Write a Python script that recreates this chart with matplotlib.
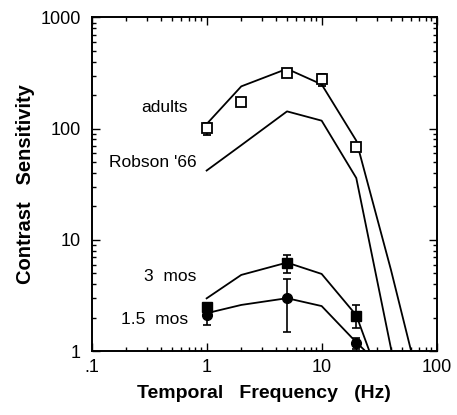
import matplotlib.pyplot as plt
import numpy as np
from matplotlib.ticker import FixedLocator, LogLocator, NullFormatter

plt.rcParams['font.family'] = ['Liberation Sans', 'DejaVu Sans']

# measured data points (markers) with error bar ends
freq_adults = [1, 2, 5, 10, 20]
sens_adults = [101, 173, 318, 280, 69]
lo_adults = [88, 165, 300, 240, 65]
hi_adults = [112, 181, 335, 313, 74]

freq_3mo = [1, 5, 20]
sens_3mo = [2.5, 6.2, 2.07]
lo_3mo = [2.3, 5.07, 1.6]
hi_3mo = [2.7, 7.3, 2.6]

freq_15mo = [1, 5, 20]
sens_15mo = [2.1, 2.98, 1.19]
lo_15mo = [1.71, 1.49, 1.05]
hi_15mo = [2.4, 4.43, 1.3]

# model / reference curves
curve_adults_x = [1, 2, 5, 10, 20, 40, 60]
curve_adults_y = [110, 240, 345, 250, 78, 5.4, 1.0]
robson_x = [1, 2, 5, 10, 20, 40.5]
robson_y = [42, 71, 143, 118, 36, 1.0]
curve_3mo_x = [1, 2, 5, 10, 20, 26]
curve_3mo_y = [2.98, 4.84, 6.25, 4.94, 2.1, 1.0]
curve_15mo_x = [1, 2, 5, 10, 20, 24]
curve_15mo_y = [2.19, 2.6, 2.99, 2.54, 1.2, 1.0]

fig = plt.figure(figsize=(4.57, 4.15), dpi=100)
ax = fig.add_axes([0.2005, 0.154, 0.755, 0.804])

lw = 1.3
for cx, cy in [(curve_adults_x, curve_adults_y), (robson_x, robson_y),
               (curve_3mo_x, curve_3mo_y), (curve_15mo_x, curve_15mo_y)]:
    ax.plot(cx, cy, color='black', lw=lw, zorder=2)

def errs(y, lo, hi):
    y = np.array(y); return [y - np.array(lo), np.array(hi) - y]

ax.errorbar(freq_adults, sens_adults, yerr=errs(sens_adults, lo_adults, hi_adults),
            fmt='s', mfc='white', mec='black', mew=1.3, ms=6.5, ecolor='black',
            elinewidth=1.2, capsize=3, capthick=1.2, zorder=3)
ax.errorbar(freq_3mo, sens_3mo, yerr=errs(sens_3mo, lo_3mo, hi_3mo),
            fmt='s', mfc='black', mec='black', ms=7, ecolor='black',
            elinewidth=1.2, capsize=3, capthick=1.2, zorder=3)
ax.errorbar(freq_15mo, sens_15mo, yerr=errs(sens_15mo, lo_15mo, hi_15mo),
            fmt='o', mfc='black', mec='black', ms=7, ecolor='black',
            elinewidth=1.2, capsize=3, capthick=1.2, zorder=3)

ax.set_xscale('log')
ax.set_yscale('log')
ax.set_xlim(0.1, 100)
ax.set_ylim(1, 1000)

ax.xaxis.set_major_locator(FixedLocator([0.1, 1, 10, 100]))
ax.set_xticklabels(['.1', '1', '10', '100'])
ax.yaxis.set_major_locator(FixedLocator([1, 10, 100, 1000]))
ax.set_yticklabels(['1', '10', '100', '1000'])
ax.xaxis.set_minor_locator(LogLocator(base=10, subs=np.arange(2, 10)))
ax.yaxis.set_minor_locator(LogLocator(base=10, subs=np.arange(2, 10)))
ax.xaxis.set_minor_formatter(NullFormatter())
ax.yaxis.set_minor_formatter(NullFormatter())

ax.tick_params(which='both', direction='in', top=True, right=True, width=1.0,
               labelsize=13)
ax.tick_params(which='major', length=6)
ax.tick_params(which='minor', length=3)
ax.tick_params(axis='y', pad=8)
ax.tick_params(axis='x', pad=6)
for s in ax.spines.values():
    s.set_linewidth(1.4)

ax.set_xlabel('Temporal   Frequency   (Hz)', fontsize=14, fontweight='bold', labelpad=6)
ax.set_ylabel('Contrast   Sensitivity', fontsize=14.5, fontweight='bold', labelpad=4)

ax.text(0.431, 155, 'adults', fontsize=12.5, ha='center', va='center')
ax.text(0.338, 49.4, "Robson '66", fontsize=12.5, ha='center', va='center')
ax.text(0.486, 4.64, '3  mos', fontsize=12.5, ha='center', va='center')
ax.text(0.352, 1.94, '1.5  mos', fontsize=12.5, ha='center', va='center')

fig.savefig('out.png', dpi=100)
